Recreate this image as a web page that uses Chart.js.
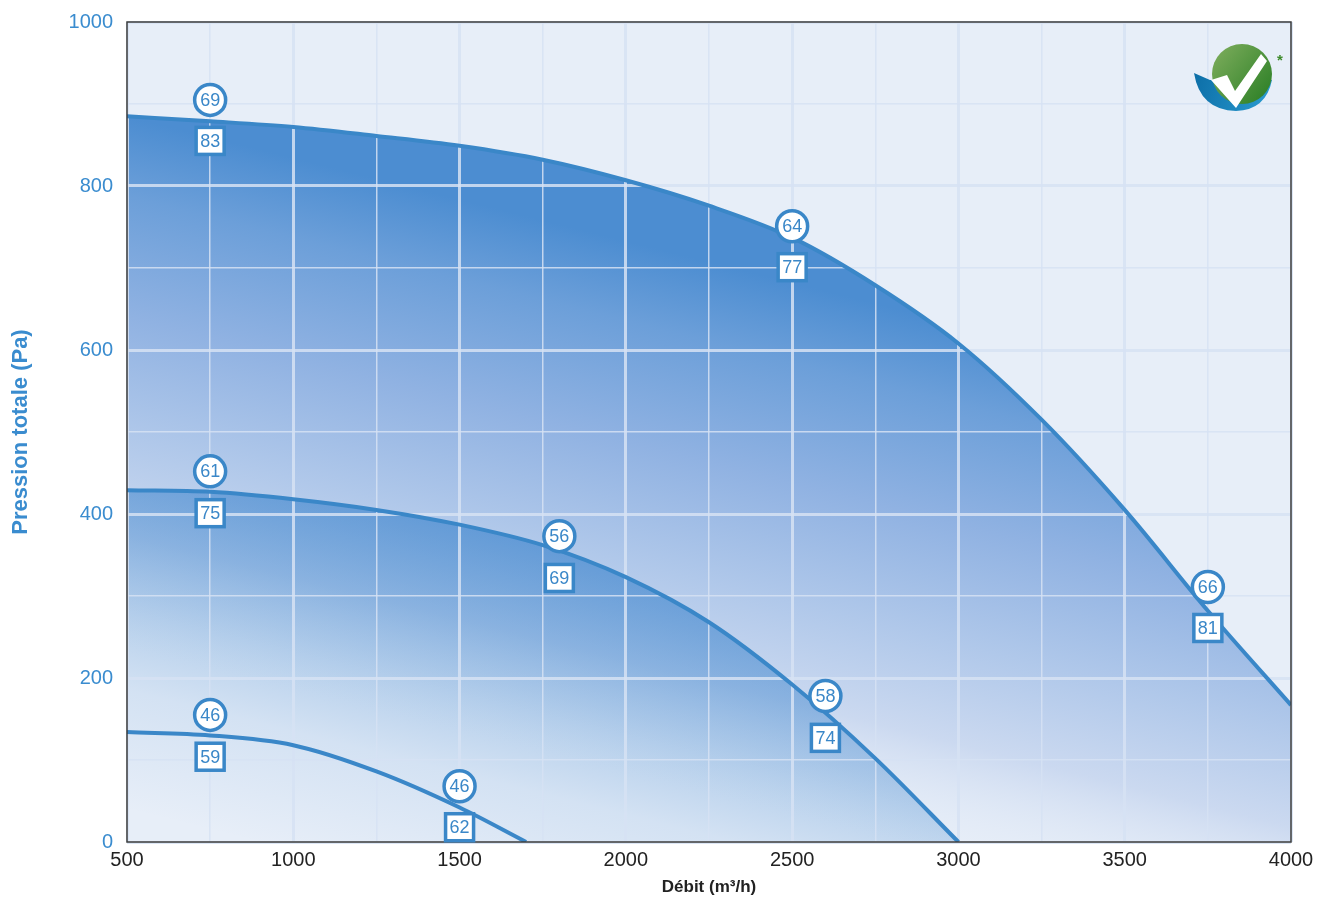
<!DOCTYPE html>
<html>
<head>
<meta charset="utf-8">
<script src="https://cdn.jsdelivr.net/npm/chart.js@4.4.1/dist/chart.umd.min.js"></script>
<style>
  html, body { margin: 0; padding: 0; background: #fff; }
  #wrap { width: 1318px; height: 900px; }
</style>
</head>
<body>
<div id="wrap"><canvas id="courbes"></canvas></div>
<script>
// courbes debit / pression
const debitHaut = [500, 750, 1000, 1250, 1500, 1750, 2000, 2250, 2500, 2750, 3000, 3250, 3500, 3750, 4000];
const pressionHaut = [885, 879, 872, 861, 849, 832, 807, 776, 737, 679, 608, 515, 405, 282, 167];

const debitMilieu = [500, 750, 1000, 1250, 1500, 1750, 2000, 2250, 2500, 2750, 3000];
const pressionMilieu = [429, 427, 418, 405, 387, 362, 323, 268, 192, 102, 0];

const debitBas = [500, 750, 1000, 1250, 1500, 1700];
const pressionBas = [134, 130, 118, 86, 42, 0];

// reperes ronds et carres
const repereDebit = [750, 2500, 3750, 750, 1800, 2600, 750, 1500];
const rondPression = [905, 751, 311, 452, 373, 178, 155, 68];
const rondTexte = ["69", "64", "66", "61", "56", "58", "46", "46"];
const carrePression = [855, 701, 261, 401, 322, 127, 104, 18];
const carreTexte = ["83", "77", "81", "75", "69", "74", "59", "62"];

const xTicks = [500, 1000, 1500, 2000, 2500, 3000, 3500, 4000];
const yTicks = [0, 200, 400, 600, 800, 1000];

const bleu = "#3a87c8";
const police = "'Liberation Sans', Arial, sans-serif";
const PENTE = 0.25;

const pts = (xs, ys) => xs.map((x, i) => ({ x: x, y: ys[i] }));

// degrade oblique : stops = [[t, couleur], ...] en px depuis le haut de la courbe
function degrade(chart, yDebut, stops) {
    const area = chart.chartArea;
    if (!area) return "rgba(0,0,0,0)";
    const y0 = chart.scales.y.getPixelForValue(yDebut);
    const t0 = stops[0][0], T = stops[stops.length - 1][0] - t0;
    const k = T / (1 + PENTE * PENTE);
    const g = chart.ctx.createLinearGradient(area.left, y0 + t0, area.left - PENTE * k, y0 + t0 + k);
    stops.forEach((s) => g.addColorStop((s[0] - t0) / T, s[1]));
    return g;
}

// la grille passe sur les remplissages mais sous les courbes
const grillePlugin = {
    id: "grille",
    beforeDatasetsDraw(chart) {
        ["x", "y"].forEach((id) => {
            const s = chart.scales[id];
            s.options.grid.display = true;
            s.drawGrid(chart.chartArea);
            s.options.grid.display = false;
        });
    }
};

const fondPlugin = {
    id: "fond",
    beforeDraw(chart) {
        const a = chart.chartArea, ctx = chart.ctx;
        ctx.save();
        ctx.fillStyle = "#e7eef8";
        ctx.fillRect(a.left, a.top, a.right - a.left, a.bottom - a.top);
        ctx.restore();
    },
    afterDraw(chart) {
        const a = chart.chartArea, ctx = chart.ctx;
        const sx = chart.scales.x, sy = chart.scales.y;
        ctx.save();
        // cadre
        ctx.strokeStyle = "#3d3d3d";
        ctx.lineWidth = 1.5;
        ctx.strokeRect(a.left, a.top, a.right - a.left, a.bottom - a.top);

        ctx.font = "18px " + police;
        ctx.textAlign = "center";
        ctx.textBaseline = "middle";
        repereDebit.forEach((d, i) => {
            const x = sx.getPixelForValue(d);
            // rond
            let y = sy.getPixelForValue(rondPression[i]);
            ctx.beginPath();
            ctx.arc(x, y, 15.5, 0, Math.PI * 2);
            ctx.fillStyle = "#fff";
            ctx.fill();
            ctx.lineWidth = 3.5;
            ctx.strokeStyle = bleu;
            ctx.stroke();
            ctx.fillStyle = bleu;
            ctx.fillText(rondTexte[i], x, y + 1);
            // carre
            y = sy.getPixelForValue(carrePression[i]);
            ctx.fillStyle = "#fff";
            ctx.fillRect(x - 14, y - 13.5, 28, 27);
            ctx.lineWidth = 3.5;
            ctx.strokeRect(x - 14, y - 13.5, 28, 27);
            ctx.fillStyle = bleu;
            ctx.fillText(carreTexte[i], x, y + 1);
        });

        // logo
        ctx.beginPath();
        ctx.moveTo(1194, 73);
        ctx.quadraticCurveTo(1200, 110, 1236, 111);
        ctx.quadraticCurveTo(1266, 110, 1272, 80);
        ctx.lineTo(1210, 80);
        ctx.closePath();
        const gb = ctx.createLinearGradient(1194, 80, 1272, 100);
        gb.addColorStop(0, "#0d6fa8");
        gb.addColorStop(1, "#2a9bd0");
        ctx.fillStyle = gb;
        ctx.fill();
        ctx.beginPath();
        ctx.arc(1242, 74, 30, 0, Math.PI * 2);
        const gv = ctx.createLinearGradient(1215, 50, 1270, 95);
        gv.addColorStop(0, "#7aab5a");
        gv.addColorStop(1, "#2f8128");
        ctx.fillStyle = gv;
        ctx.fill();
        ctx.beginPath();
        ctx.moveTo(1211, 80);
        ctx.lineTo(1227, 75);
        ctx.lineTo(1235, 91);
        ctx.lineTo(1261, 54);
        ctx.lineTo(1267, 61);
        ctx.lineTo(1236, 108);
        ctx.closePath();
        ctx.fillStyle = "#fff";
        ctx.fill();
        ctx.fillStyle = "#3d8a2a";
        ctx.font = "bold 15px " + police;
        ctx.fillText("*", 1280, 61);
        ctx.restore();
    }
};

const grille = {
    display: false,
    drawTicks: false,
    color: "rgba(214,226,243,0.85)"
};

new Chart(document.getElementById("courbes"), {
    type: "line",
    data: {
        datasets: [
            {
                data: pts(debitHaut, pressionHaut),
                order: 3,
                borderColor: bleu,
                borderWidth: 4,
                pointRadius: 0,
                cubicInterpolationMode: "monotone",
                fill: "origin",
                backgroundColor: (c) => degrade(c.chart, pressionHaut[0], [
                    [0, "#4c8dd1"], [80, "#6c9fd9"], [200, "#90b2e2"], [320, "#b0c8ea"],
                    [420, "#cbd9f0"], [540, "rgba(231,238,248,0)"]])
            },
            {
                data: pts(debitMilieu, pressionMilieu),
                order: 2,
                borderColor: bleu,
                borderWidth: 4,
                pointRadius: 0,
                cubicInterpolationMode: "monotone",
                fill: "origin",
                backgroundColor: (c) => degrade(c.chart, pressionMilieu[0], [
                    [-80, "rgba(40,120,200,0.62)"], [0, "rgba(40,120,200,0.48)"],
                    [100, "rgba(40,120,200,0.3)"], [200, "rgba(40,120,200,0.1)"],
                    [320, "rgba(40,120,200,0)"]])
            },
            {
                data: pts(debitBas, pressionBas),
                order: 1,
                borderColor: bleu,
                borderWidth: 4,
                pointRadius: 0,
                cubicInterpolationMode: "monotone",
                fill: false
            }
        ]
    },
    options: {
        responsive: true,
        maintainAspectRatio: false,
        animation: false,
        layout: { padding: { top: 22, right: 27, left: 0, bottom: 0 } },
        plugins: {
            legend: { display: false },
            tooltip: { enabled: false },
            filler: { drawTime: "beforeDatasetsDraw" }
        },
        scales: {
            x: {
                type: "linear",
                min: 500,
                max: 4000,
                afterBuildTicks: (s) => { s.ticks = [];
                    for (let v = 500; v <= 4000; v += 250) s.ticks.push({ value: v }); },
                afterFit: (s) => { s.height = 58; s.paddingLeft = 0; s.paddingRight = 0; },
                border: { display: false },
                grid: Object.assign({}, grille, {
                    lineWidth: (c) => (c.tick && xTicks.includes(c.tick.value) ? 3 : 1.5)
                }),
                ticks: {
                    padding: 6,
                    color: "#222",
                    font: { family: police, size: 20 },
                    callback: (v) => (xTicks.includes(v) ? String(v) : "")
                },
                title: {
                    display: true,
                    text: "Débit (m³/h)",
                    color: "#222",
                    font: { family: "'Liberation Sans Narrow', 'Liberation Sans', sans-serif", size: 17, weight: "bold" },
                    padding: { top: 0, bottom: 2 }
                }
            },
            y: {
                type: "linear",
                min: 0,
                max: 1000,
                afterBuildTicks: (s) => { s.ticks = [];
                    for (let v = 0; v <= 1000; v += 100) s.ticks.push({ value: v }); },
                afterFit: (s) => { s.width = 127; s.paddingTop = 0; s.paddingBottom = 0; },
                border: { display: false },
                grid: Object.assign({}, grille, {
                    lineWidth: (c) => (c.tick && yTicks.includes(c.tick.value) ? 3 : 1.5)
                }),
                ticks: {
                    padding: 14,
                    color: "#3a8ccf",
                    font: { family: police, size: 20 },
                    callback: (v) => (yTicks.includes(v) ? String(v) : "")
                },
                title: {
                    display: true,
                    text: "Pression totale (Pa)",
                    color: "#3a8ccf",
                    font: { family: police, size: 22, weight: "bold" },
                    padding: { top: 8, bottom: 0 }
                }
            }
        }
    },
    plugins: [fondPlugin, grillePlugin]
});
</script>
</body>
</html>
